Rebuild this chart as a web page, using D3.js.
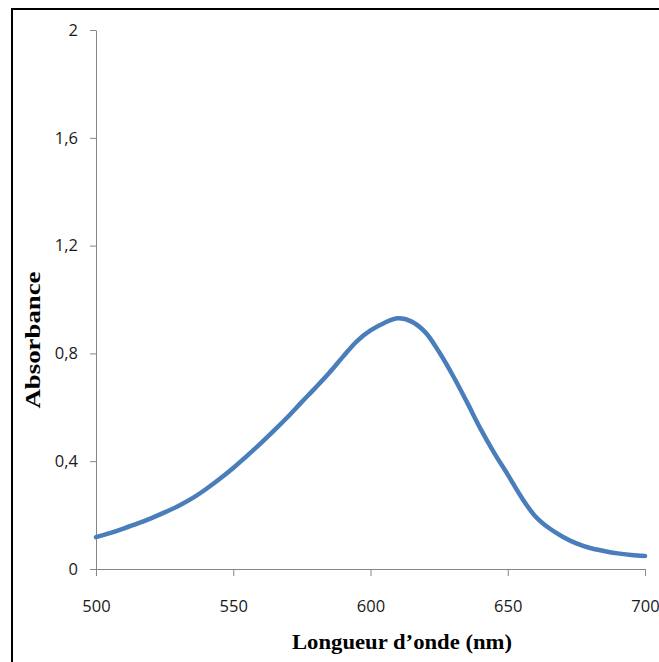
<!DOCTYPE html>
<html>
<head>
<meta charset="utf-8">
<script src="https://cdn.jsdelivr.net/npm/d3@7"></script>
<style>
  body { margin: 0; background: #fff; }
  svg { display: block; }
</style>
</head>
<body>
<script>
const width = 659
const height = 662

// spectrum
const wavelength = [500, 505, 510, 515, 520, 525, 530, 535, 540, 545, 550, 555, 560, 565, 570,
  575, 580, 585, 590, 595, 600, 605, 610, 615, 620, 625, 630, 635, 640, 645, 650,
  655, 660, 665, 670, 675, 680, 685, 690, 695, 700]
const absorbance = [0.118, 0.133, 0.150, 0.168, 0.188, 0.210, 0.234, 0.262, 0.296, 0.334, 0.375,
  0.420, 0.466, 0.515, 0.566, 0.620, 0.673, 0.728, 0.788, 0.845, 0.885, 0.913, 0.930,
  0.918, 0.878, 0.805, 0.718, 0.622, 0.522, 0.432, 0.350, 0.266, 0.196, 0.152, 0.120,
  0.095, 0.078, 0.067, 0.058, 0.052, 0.048]

const xTicks = [500, 550, 600, 650, 700]
const yTicks = [0, 0.4, 0.8, 1.2, 1.6, 2]
const yTickLabels = ['0', '0,4', '0,8', '1,2', '1,6', '2']

const svg = d3.select('body').append('svg')
  .attr('width', width)
  .attr('height', height)

// outer frame
svg.append('rect')
  .attr('x', 12).attr('y', 9)
  .attr('width', 720).attr('height', 720)
  .attr('fill', 'none')
  .attr('stroke', '#000')
  .attr('stroke-width', 2)

const xScale = d3.scaleLinear().domain([500, 700]).range([96, 645])
const yScale = d3.scaleLinear().domain([0, 2]).range([569, 30])

const axisColor = '#868686'
const tickFont = "'Open Sans', sans-serif"

const xAxis = svg.append('g')
  .attr('transform', `translate(0,${yScale(0)})`)
  .call(d3.axisBottom(xScale).tickValues(xTicks).tickSize(7).tickSizeOuter(0).tickPadding(24))
const yAxis = svg.append('g')
  .attr('transform', `translate(${xScale(500)},0)`)
  .call(d3.axisLeft(yScale).tickValues(yTicks).tickSize(6).tickSizeOuter(0).tickPadding(12)
    .tickFormat((d, i) => yTickLabels[i]))

;[xAxis, yAxis].forEach(a => {
  a.select('.domain').attr('stroke', axisColor)
  a.selectAll('.tick line').attr('stroke', axisColor)
  a.selectAll('.tick text')
    .attr('fill', '#1a1a1a')
    .style('font-family', tickFont)
    .style('font-size', '16.5px')
})

// curve
const line = d3.line()
  .x((d, i) => xScale(wavelength[i]))
  .y(d => yScale(d))
  .curve(d3.curveCatmullRom)

svg.append('path')
  .datum(absorbance)
  .attr('d', line)
  .attr('fill', 'none')
  .attr('stroke', '#4a7ebb')
  .attr('stroke-width', 4.5)
  .attr('stroke-linejoin', 'round')
  .attr('stroke-linecap', 'round')

// axis titles
svg.append('text')
  .attr('x', 402).attr('y', 649)
  .attr('text-anchor', 'middle')
  .attr('textLength', 220)
  .attr('lengthAdjust', 'spacingAndGlyphs')
  .style('font-family', "'Liberation Serif', serif")
  .style('font-weight', 'bold')
  .style('font-size', '22px')
  .text('Longueur d’onde (nm)')

svg.append('text')
  .attr('transform', 'translate(40,340) rotate(-90)')
  .attr('text-anchor', 'middle')
  .attr('textLength', 137)
  .attr('lengthAdjust', 'spacingAndGlyphs')
  .style('font-family', "'Liberation Serif', serif")
  .style('font-weight', 'bold')
  .style('font-size', '21px')
  .text('Absorbance')
</script>
</body>
</html>
